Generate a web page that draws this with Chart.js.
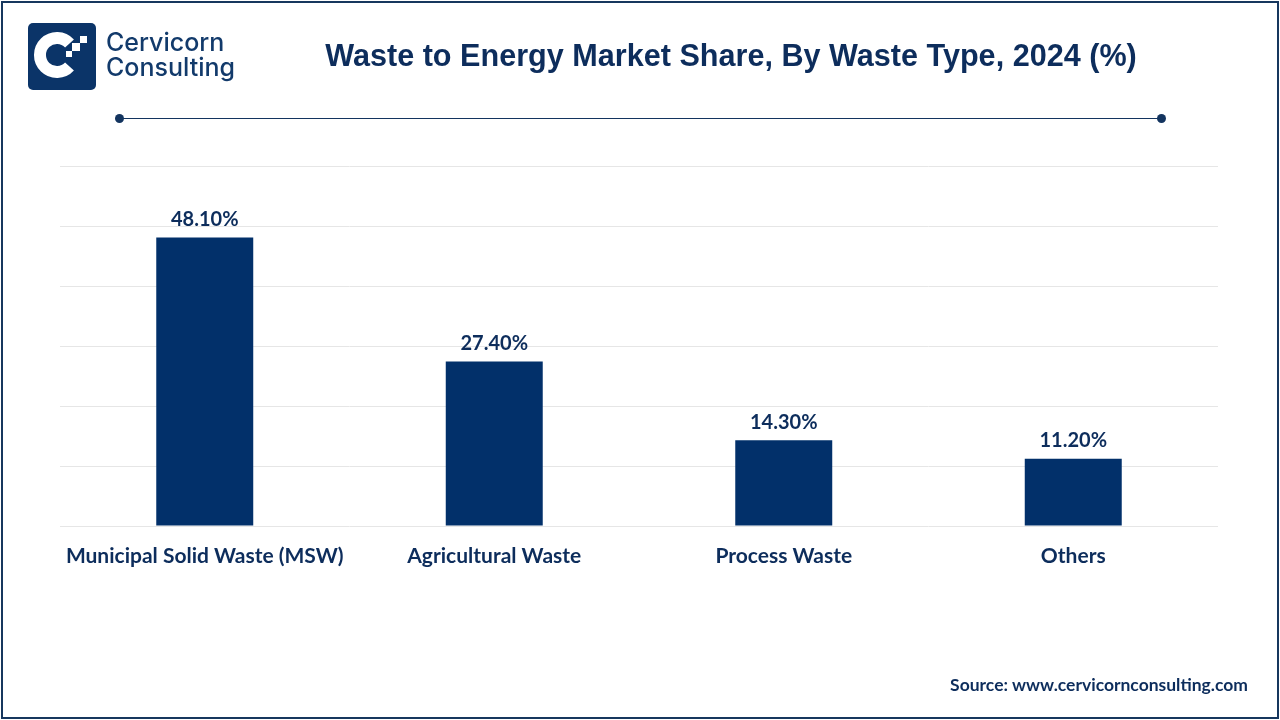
<!DOCTYPE html>
<html>
<head>
<meta charset="utf-8">
<script src="https://cdn.jsdelivr.net/npm/chart.js@4/dist/chart.umd.min.js"></script>
<style>
  html, body { margin: 0; padding: 0; background: #fff; }
  #page { position: relative; width: 1280px; height: 720px; overflow: hidden; background: #fff; }
  #frame { position: absolute; left: 1px; top: 1px; width: 1274px; height: 714px;
    border: 2px solid #17375e; box-sizing: content-box; pointer-events: none; }
  #wrap { position: absolute; left: 0; top: 0; width: 1280px; height: 720px; }
  #logo { position: absolute; left: 28px; top: 23px; }
  #brand { position: absolute; left: 106px; top: 30px; color: #123a6b;
    font: 500 25px/25px "Inter", sans-serif; }
  #title { position: absolute; left: 0; width: 1462px; top: 38px; text-align: center;
    color: #0d2d5c; font: bold 30.6px "Liberation Sans", Arial, sans-serif; }
  #rule { position: absolute; left: 119px; top: 118px; width: 1043px; height: 1px; background: #13345f; }
  .dot { position: absolute; top: 114px; width: 9px; height: 9px; border-radius: 50%; background: #13345f; }
  #source { position: absolute; right: 32px; top: 674px; color: #0d2d5c;
    font: bold 17.5px "Lato", sans-serif; }
</style>
</head>
<body>
<div id="page">
  <div id="wrap"><canvas id="chart"></canvas></div>
  <svg id="logo" width="68" height="67" viewBox="0 0 68 67">
    <rect x="0" y="0" width="68" height="67" rx="5" fill="#0b3468"/>
    <path d="M41.5 20.5 A17 17 0 1 0 41.5 43.5" fill="none" stroke="#fff" stroke-width="12"/>
    <rect x="44" y="20" width="8" height="8" fill="#fff"/>
    <rect x="52" y="13" width="7" height="7" fill="#fff"/>
    <rect x="38" y="28" width="6" height="6" fill="#fff"/>
  </svg>
  <div id="brand">Cervicorn<br>Consulting</div>
  <div id="title">Waste to Energy Market Share, By Waste Type, 2024 (%)</div>
  <div class="dot" style="left:115px"></div>
  <div id="rule"></div>
  <div class="dot" style="left:1157px"></div>
  <div id="source">Source: www.cervicornconsulting.com</div>
  <div id="frame"></div>
</div>
<script>
"use strict";
const $ = id => document.getElementById(id);

const categories = ["Municipal Solid Waste (MSW)", "Agricultural Waste", "Process Waste", "Others"];
const shares = [48.1, 27.4, 14.3, 11.2];
const yTicks = [0, 10, 20, 30, 40, 50, 60];

const navy = "#02306a";
const ink = "#0d2d5c";

/* ---------- value labels above bars ---------- */
const valueLabels = {
  id: "valueLabels",
  afterDatasetsDraw(c) {
    const ctx = c.ctx;
    ctx.save();
    ctx.fillStyle = ink;
    ctx.font = "bold 20px Lato, sans-serif";
    ctx.textAlign = "center";
    ctx.textBaseline = "bottom";
    c.getDatasetMeta(0).data.forEach((bar, i) => {
      ctx.fillText(shares[i].toFixed(2) + "%", bar.x, bar.y - 8);
    });
    ctx.restore();
  }
};

new Chart($("chart"), {
  type: "bar",
  data: { labels: categories,
    datasets: [{ data: shares, backgroundColor: navy, borderWidth: 0,
      categoryPercentage: 1, barPercentage: 0.335 }] },
  options: {
    responsive: true, maintainAspectRatio: false, animation: false,
    layout: { padding: { left: 60, right: 62, top: 166, bottom: 134 } },
    plugins: { legend: { display: false }, tooltip: { enabled: false } },
    scales: {
      x: { grid: { display: false }, border: { display: false },
        ticks: { color: ink, padding: 10, font: { family: "Lato", size: 21, weight: "bold" } },
        afterFit: s => { s.height = 60; } },
      y: { min: 0, max: 60, border: { display: false },
        afterBuildTicks: s => { s.ticks = yTicks.map(v => ({ value: v })); },
        ticks: { display: false },
        grid: { color: "#e6e6e6", lineWidth: 1, drawTicks: false },
        afterFit: s => { s.width = 0; } }
    }
  },
  plugins: [valueLabels]
});
</script>
</body>
</html>
